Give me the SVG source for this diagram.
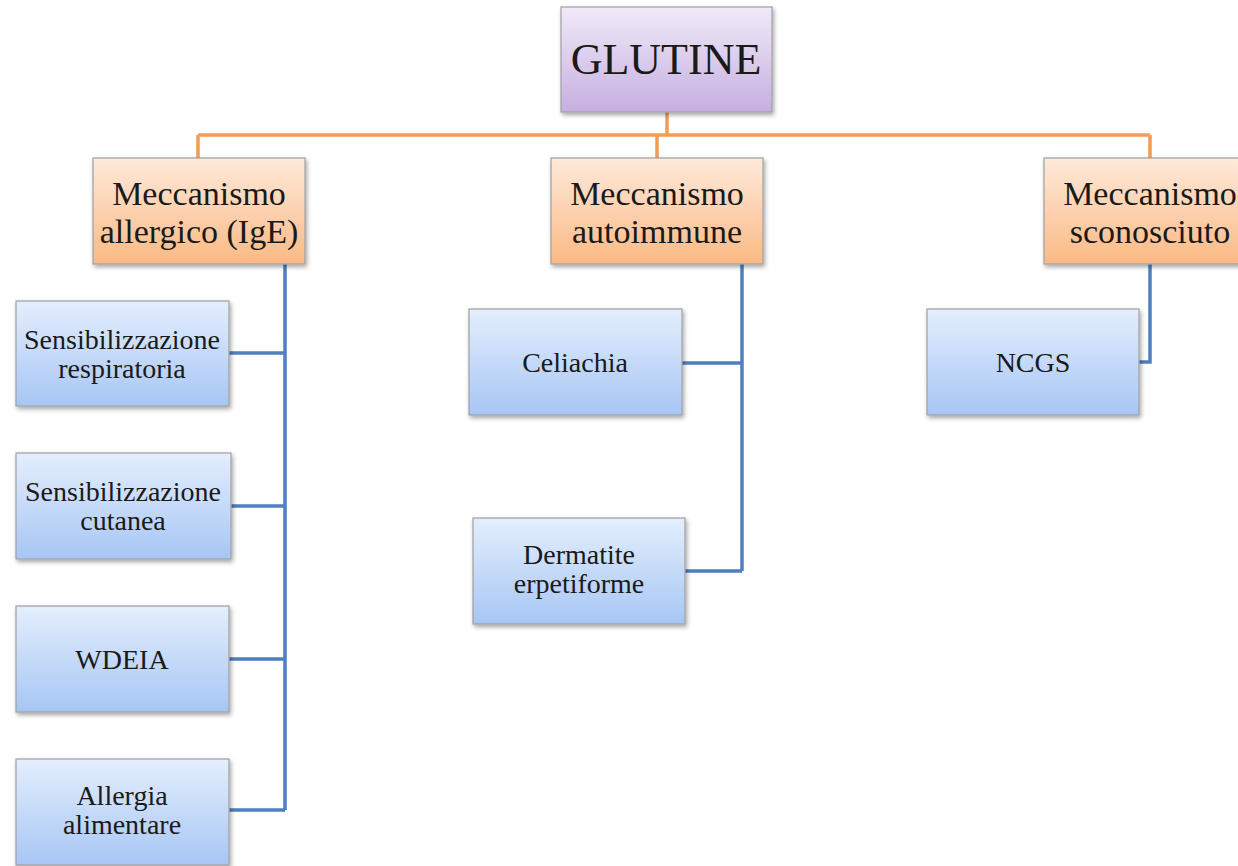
<svg xmlns="http://www.w3.org/2000/svg" width="1238" height="866" viewBox="0 0 1238 866">
<defs>
<linearGradient id="gPurple" x1="0" y1="0" x2="0" y2="1"><stop offset="0" stop-color="#f0eaf8"/><stop offset="1" stop-color="#c6afe1"/></linearGradient>
<linearGradient id="gOrange" x1="0" y1="0" x2="0" y2="1"><stop offset="0" stop-color="#feeadb"/><stop offset="1" stop-color="#fbb984"/></linearGradient>
<linearGradient id="gBlue" x1="0" y1="0" x2="0" y2="1"><stop offset="0" stop-color="#e4eefd"/><stop offset="1" stop-color="#a7c6f5"/></linearGradient>
<filter id="sh" x="-10%" y="-10%" width="125%" height="130%"><feDropShadow dx="1.5" dy="2.5" stdDeviation="2" flood-color="#000" flood-opacity="0.35"/></filter>
<style>
.box{stroke:#a0a0a0;stroke-width:1.2;filter:url(#sh)}
.p{fill:url(#gPurple)}.o{fill:url(#gOrange)}.b{fill:url(#gBlue)}
text{font-family:"Liberation Serif","Times New Roman",serif;fill:#1a1a1a;text-anchor:middle}
.t0{font-size:44px}.t1{font-size:34px}.t2{font-size:28px}
.co{fill:none;stroke:#f59b52;stroke-width:3.5}
.cb{fill:none;stroke:#4e7fc1;stroke-width:3.5}
</style>
</defs>
<rect width="1238" height="866" fill="#ffffff"/>
<g id="connectors">
<path class="co" d="M667 112V135M198 135H1150M198 135V158M657 135V158M1150 135V158"/>
<path class="cb" d="M285 264V810M229 353H285M231 506H285M229 659H285M229 810H285"/>
<path class="cb" d="M742 264V571M682 363H742M685 571H742"/>
<path class="cb" d="M1150 264V362H1139"/>
</g>
<g id="glutine"><rect class="box p" x="561" y="7" width="211" height="105"/><text class="t0" x="666" y="74">GLUTINE</text></g>
<g id="allergico"><rect class="box o" x="93" y="158" width="212" height="106"/><text class="t1" x="199" y="205">Meccanismo</text><text class="t1" x="199" y="243">allergico (IgE)</text></g>
<g id="autoimmune"><rect class="box o" x="551" y="158" width="212" height="106"/><text class="t1" x="657" y="205">Meccanismo</text><text class="t1" x="657" y="243">autoimmune</text></g>
<g id="sconosciuto"><rect class="box o" x="1044" y="158" width="212" height="106"/><text class="t1" x="1150" y="205">Meccanismo</text><text class="t1" x="1150" y="243">sconosciuto</text></g>
<g id="respiratoria"><rect class="box b" x="16" y="301" width="213" height="105"/><text class="t2" x="122" y="349">Sensibilizzazione</text><text class="t2" x="122" y="378">respiratoria</text></g>
<g id="cutanea"><rect class="box b" x="16" y="453" width="215" height="106"/><text class="t2" x="123" y="501">Sensibilizzazione</text><text class="t2" x="123" y="530">cutanea</text></g>
<g id="wdeia"><rect class="box b" x="16" y="606" width="213" height="106"/><text class="t2" x="122" y="669">WDEIA</text></g>
<g id="allergia"><rect class="box b" x="16" y="759" width="213" height="106"/><text class="t2" x="122" y="805">Allergia</text><text class="t2" x="122" y="834">alimentare</text></g>
<g id="celiachia"><rect class="box b" x="469" y="309" width="213" height="106"/><text class="t2" x="575" y="372">Celiachia</text></g>
<g id="dermatite"><rect class="box b" x="473" y="518" width="212" height="106"/><text class="t2" x="579" y="564">Dermatite</text><text class="t2" x="579" y="593">erpetiforme</text></g>
<g id="ncgs"><rect class="box b" x="927" y="309" width="212" height="106"/><text class="t2" x="1033" y="372">NCGS</text></g>
</svg>
